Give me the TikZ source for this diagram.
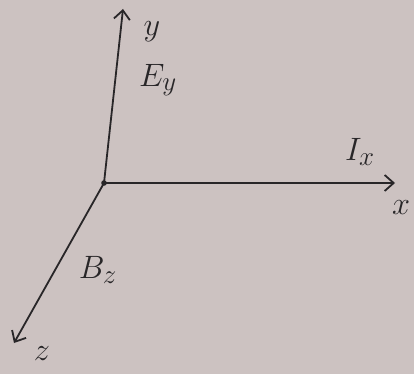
\documentclass[tikz,border=0pt]{standalone}
\usepackage{graphicx}
\usetikzlibrary{arrows.meta}
\definecolor{paper}{RGB}{204,194,193}
\definecolor{ink}{RGB}{40,38,40}
\begin{document}
\begin{tikzpicture}[x=1pt,y=-1pt,
  axis/.style={draw=ink,line width=1.8pt,-{Straight Barb[length=9pt,width=16pt,line width=1.8pt]}},
  lbl/.style={text=ink,font=\fontsize{24.88}{26}\selectfont,inner sep=0pt}]
\fill[paper] (0,0) rectangle (414,374);
\useasboundingbox (0,0) rectangle (414,374);
\coordinate (o) at (104,183);
\coordinate (ytip) at (123,9);
\coordinate (xtip) at (395,183);
\coordinate (ztip) at (14,343);
\draw[axis] (o) -- (ytip);
\draw[axis] (o) -- (xtip);
\draw[axis] (o) -- (ztip);
\fill[ink] (o) circle (2.8pt);
\node[lbl] (ly) at (152,32) {\scalebox{1.3}{$y$}};
\node[lbl] (ley) at (158,80) {\scalebox{1.3}{$E_y$}};
\node[lbl] (lix) at (360,152) {\scalebox{1.3}{$I_x$}};
\node[lbl] (lx) at (401,208) {\scalebox{1.3}{$x$}};
\node[lbl] (lbz) at (98,270) {\scalebox{1.3}{$B_z$}};
\node[lbl] (lz) at (42,354) {\scalebox{1.3}{$z$}};
\end{tikzpicture}
\end{document}
